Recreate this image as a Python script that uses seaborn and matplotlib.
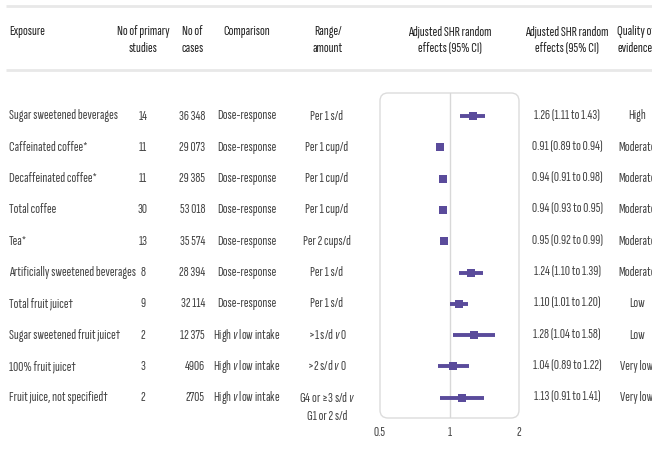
import matplotlib
matplotlib.use("Agg")
import matplotlib.pyplot as plt
from matplotlib import font_manager
from matplotlib.patches import FancyBboxPatch
import numpy as np
import pandas as pd
import seaborn as sns

# table data
exposures = ["Sugar sweetened beverages", "Caffeinated coffee*", "Decaffeinated coffee*",
             "Total coffee", "Tea*", "Artificially sweetened beverages", "Total fruit juice†",
             "Sugar sweetened fruit juice†", "100% fruit juice†", "Fruit juice, not specified†"]
n_studies = [14, 11, 11, 30, 13, 8, 9, 2, 3, 2]
n_cases = ["36 348", "29 073", "29 385", "53 018", "35 574", "28 394", "32 114", "12 375", "4906", "2705"]
comparison = ["Dose-response"] * 7 + ["High $v$ low intake"] * 3
range_amount = ["Per 1 s/d", "Per 1 cup/d", "Per 1 cup/d", "Per 1 cup/d", "Per 2 cups/d",
                "Per 1 s/d", "Per 1 s/d", ">1 s/d $v$ 0", ">2 s/d $v$ 0",
                "G4 or ≥3 s/d $v$\nG1 or 2 s/d"]
shr = [1.26, 0.91, 0.94, 0.94, 0.95, 1.24, 1.10, 1.28, 1.04, 1.13]
ci_low = [1.11, 0.89, 0.91, 0.93, 0.92, 1.10, 1.01, 1.04, 0.89, 0.91]
ci_high = [1.43, 0.94, 0.98, 0.95, 0.99, 1.39, 1.20, 1.58, 1.22, 1.41]
quality = ["High", "Moderate", "Moderate", "Moderate", "Moderate", "Moderate",
           "Low", "Low", "Very low", "Very low"]

df = pd.DataFrame({"row": np.arange(len(exposures)), "shr": shr, "lo": ci_low, "hi": ci_high})

sns.set_theme(style="white")
# very narrow face, falls back if missing
have = {f.name for f in font_manager.fontManager.ttflist}
cands = [("Sofia Sans Extra Condensed", 10.3), ("Pathway Gothic One", 9), ("Roboto Condensed", 7.5),
         ("Liberation Sans Narrow", 7.5), ("Liberation Sans", 6.5)]
main, fs = next((c for c in cands if c[0] in have), ("DejaVu Sans", 6.3))
plt.rcParams["font.family"] = [main, "DejaVu Sans"]
plt.rcParams["mathtext.fontset"] = "custom"
plt.rcParams["mathtext.it"] = main + ":italic"
plt.rcParams["mathtext.rm"] = main

purple = "#5a4b9b"
txt = "#444444"
head = "#222222"

fig = plt.figure(figsize=(6.52, 4.53), dpi=100)
bg = fig.add_axes([0, 0, 1, 1])
bg.set_xlim(0, 652)
bg.set_ylim(453, 0)
bg.axis("off")

# header
bg.plot([6, 652], [6, 6], color="#e8e8e8", lw=2, solid_capstyle="butt")
bg.plot([6, 652], [70, 70], color="#e8e8e8", lw=2, solid_capstyle="butt")
hy = 40
hkw = dict(va="center", fontsize=fs, color=head, linespacing=1.35, fontweight="medium")
bg.text(9, 31, "Exposure", ha="left", **hkw)
bg.text(143, hy, "No of primary\nstudies", ha="center", **hkw)
bg.text(182, hy, "No of\ncases", ha="left", **hkw)
bg.text(247, 31, "Comparison", ha="center", **hkw)
bg.text(328, hy, "Range/\namount", ha="center", **hkw)
bg.text(450, hy, "Adjusted SHR random\neffects (95% CI)", ha="center", **hkw)
bg.text(567, hy, "Adjusted SHR random\neffects (95% CI)", ha="center", **hkw)
bg.text(617, hy, "Quality of\nevidence", ha="left", **hkw)

# rows
y0, dy = 116, 31.3
for i in range(len(exposures)):
    y = y0 + i * dy
    bg.text(9, y, exposures[i], ha="left", va="center", fontsize=fs, color=txt)
    bg.text(143, y, str(n_studies[i]), ha="center", va="center", fontsize=fs, color=txt)
    bg.text(205, y, n_cases[i], ha="right", va="center", fontsize=fs, color=txt)
    bg.text(247, y, comparison[i], ha="center", va="center", fontsize=fs, color=txt)
    for k, line in enumerate(range_amount[i].split("\n")):
        bg.text(327, y + k * 19, line, ha="center", va="center", fontsize=fs, color=txt)
    bg.text(567, y, f"{shr[i]:.2f} ({ci_low[i]:.2f} to {ci_high[i]:.2f})", ha="center", va="center",
            fontsize=fs, color=txt)
    bg.text(637, y, quality[i], ha="center", va="center", fontsize=fs, color=txt)

# forest plot box
bg.add_patch(FancyBboxPatch((380, 93), 139, 325, boxstyle="round,pad=0,rounding_size=8",
                            fc="none", ec="#dcdcdc", lw=1))

ax = fig.add_axes([380 / 652, 1 - 418 / 453, 139 / 652, 325 / 453])
ax.patch.set_alpha(0)
ax.set_xscale("log")
ax.set_xlim(0.5, 2)
ax.set_ylim((418 - y0) / dy, (93 - y0) / dy)
ax.axvline(1, color="#d8d8d8", lw=1, zorder=0)
ax.hlines(df["row"], df["lo"], df["hi"], color=purple, lw=2.8)
sns.scatterplot(data=df, x="shr", y="row", marker="s", s=34, color=purple, edgecolor=purple,
                linewidth=0, ax=ax, zorder=3)
ax.set_xticks([0.5, 1, 2])
ax.set_xticklabels(["0.5", "1", "2"])
ax.xaxis.set_minor_locator(matplotlib.ticker.NullLocator())
ax.set_yticks([])
ax.tick_params(axis="x", length=0, pad=6, labelsize=fs, labelcolor=txt)
ax.set_xlabel("")
ax.set_ylabel("")
for s in ax.spines.values():
    s.set_visible(False)

fig.savefig("out.png", dpi=100)
